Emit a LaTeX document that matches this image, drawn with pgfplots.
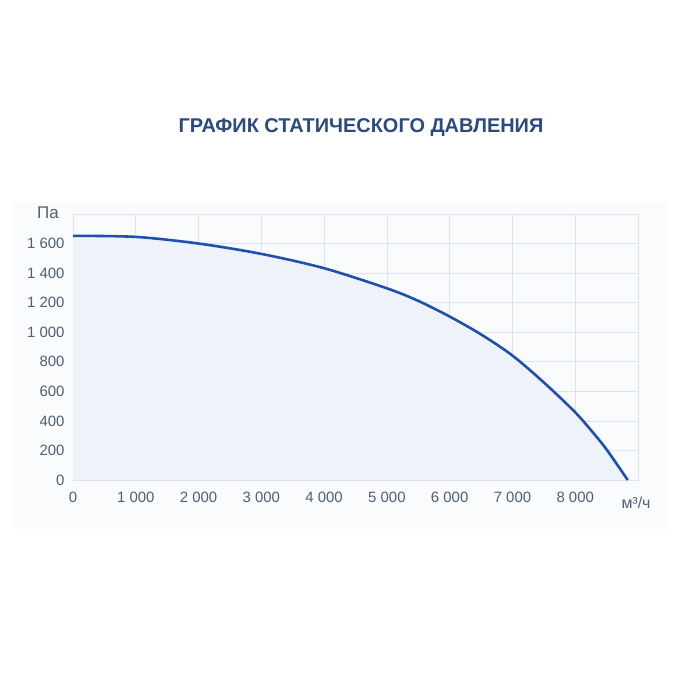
\documentclass[border=0pt]{standalone}
\usepackage{pgfplots}
\pgfplotsset{compat=1.18}
\usepackage{fontspec}
\setmainfont{Liberation Sans}
\definecolor{titleblue}{HTML}{2B4A7E}
\definecolor{ticktext}{HTML}{4F5E78}
\definecolor{curveblue}{HTML}{1E50AE}
\definecolor{areafill}{HTML}{EEF3FA}
\definecolor{gridc}{HTML}{DEE2EA}
\definecolor{panel}{HTML}{FAFBFD}
\begin{document}
\begin{tikzpicture}[x=1bp,y=1bp]
\path[fill=white] (0,0) rectangle (700,700);
\path[fill=panel] (13,171) rectangle (668,498);
\node[text=titleblue,font=\bfseries\fontsize{20}{23}\selectfont] at (361,572) {ГРАФИК СТАТИЧЕСКОГО ДАВЛЕНИЯ};
\begin{axis}[
  at={(73bp,220bp)}, anchor=origin,
  scale only axis,
  width=565bp, height=266bp,
  xmin=0, xmax=9000, ymin=0, ymax=1800,
  xtick={0,1000,2000,3000,4000,5000,6000,7000,8000},
  xticklabels={0,1 000,2 000,3 000,4 000,5 000,6 000,7 000,8 000},
  ytick={0,200,400,600,800,1000,1200,1400,1600},
  yticklabels={0,200,400,600,800,1 000,1 200,1 400,1 600},
  extra x ticks={9000}, extra x tick labels={},
  extra x tick style={grid=major},
  grid=major,
  grid style={gridc, line width=0.6pt},
  axis line style={gridc, line width=0.8pt},
  major tick length=0pt,
  tick style={draw=none},
  ticklabel style={text=ticktext, font=\fontsize{15}{17}\selectfont},
  xticklabel style={yshift=-9bp},
  yticklabel style={xshift=-5bp},
  clip=false,
]
\addplot[draw=none, fill=areafill, smooth, tension=0.5] coordinates {
  (0,1652) (1000,1645) (2000,1600) (3000,1530) (4000,1433) (5000,1297)
  (5500,1212) (6000,1106) (6500,985) (7000,842) (7500,660) (8000,458)
  (8300,312) (8500,206) (8836,0)
} \closedcycle;
\addplot[curveblue, line width=2.6pt, smooth, tension=0.5] coordinates {
  (0,1652) (1000,1645) (2000,1600) (3000,1530) (4000,1433) (5000,1297)
  (5500,1212) (6000,1106) (6500,985) (7000,842) (7500,660) (8000,458)
  (8300,312) (8500,206) (8836,0)
};
\end{axis}
\node[text=ticktext, font=\fontsize{17}{20}\selectfont] at (48,487) {Па};
\node[text=ticktext, font=\fontsize{16}{19}\selectfont] at (636,197) {м³/ч};
\end{tikzpicture}
\end{document}
